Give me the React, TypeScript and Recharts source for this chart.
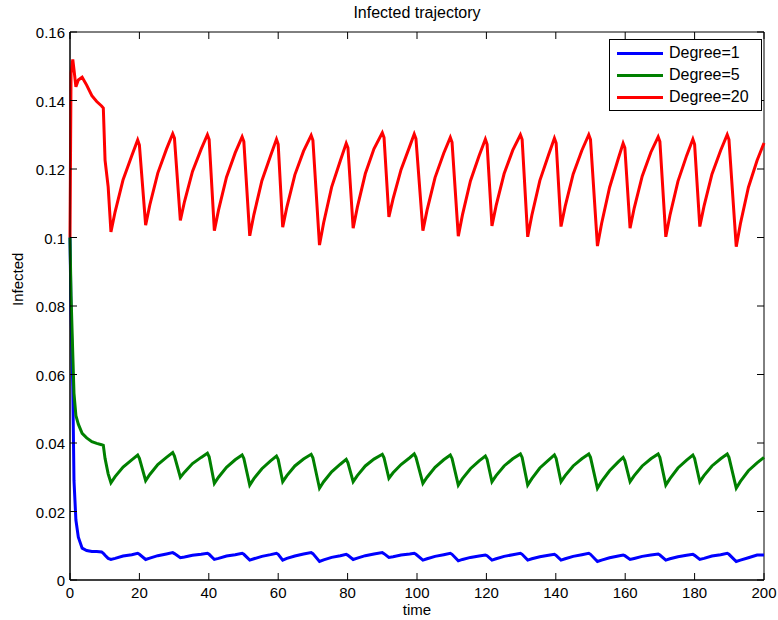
import React from 'react';
import { LineChart, Line, XAxis, YAxis, ReferenceArea } from 'recharts';

// sample times shared by all three runs
const time = [
  0, 0.3, 0.8, 1.15, 1.7, 2.4, 3.5, 4.8, 6.3, 7.7, 9.1, 9.6, 10.1, 11,
  11.8, 13, 15.3, 17.8, 19.5, 20,
  21.8, 23, 25.3, 27.8, 29.6, 30.1,
  31.8, 33, 35.3, 37.8, 39.6, 40.1,
  41.6, 42.8, 45.1, 47.6, 49.6, 50.1,
  51.8, 53, 55.3, 57.8, 59.5, 60,
  61.3, 62.5, 64.8, 67.3, 69.5, 70,
  71.9, 73.1, 75.4, 77.9, 79.6, 80.1,
  81.6, 82.8, 85.1, 87.6, 90, 90.5,
  91.9, 93.1, 95.4, 97.9, 99.2, 99.7,
  101.7, 102.9, 105.2, 107.7, 109.6, 110.1,
  111.9, 113.1, 115.4, 117.9, 119.7, 120.2,
  121.6, 122.8, 125.1, 127.6, 129.8, 130.3,
  131.9, 133.1, 135.4, 137.9, 139.6, 140.1,
  141.5, 142.7, 145, 147.5, 149.5, 150,
  152, 153.2, 155.5, 158, 159.4, 159.9,
  161.4, 162.6, 164.9, 167.4, 169.5, 170,
  171.7, 172.9, 175.2, 177.7, 179.5, 180,
  181.5, 182.7, 185, 187.5, 189.4, 189.9,
  192, 193.2, 195.5, 198, 200,
];

const degree1 = [
  0.1, 0.078, 0.0565, 0.029, 0.0175, 0.0125, 0.0093, 0.0086, 0.0083, 0.0083, 0.0082, 0.0078, 0.0072, 0.0063,
  0.006, 0.0063, 0.007, 0.0074, 0.0078, 0.0075,
  0.006, 0.0064, 0.0071, 0.0076, 0.008, 0.0077,
  0.0065, 0.0067, 0.0072, 0.0075, 0.0078, 0.0075,
  0.006, 0.0063, 0.007, 0.0074, 0.0078, 0.0075,
  0.0058, 0.0062, 0.0069, 0.0074, 0.0078, 0.0075,
  0.0058, 0.0063, 0.007, 0.0076, 0.008, 0.0077,
  0.0054, 0.0059, 0.0066, 0.0071, 0.0075, 0.0072,
  0.006, 0.0064, 0.0071, 0.0076, 0.008, 0.0077,
  0.0066, 0.0068, 0.0073, 0.0076, 0.0078, 0.0075,
  0.0058, 0.0062, 0.0069, 0.0074, 0.0078, 0.0075,
  0.0056, 0.006, 0.0066, 0.007, 0.0073, 0.0071,
  0.0058, 0.0062, 0.0069, 0.0074, 0.0078, 0.0075,
  0.0058, 0.0062, 0.0068, 0.0072, 0.0075, 0.0072,
  0.0058, 0.0062, 0.0069, 0.0074, 0.0078, 0.0075,
  0.0054, 0.0058, 0.0065, 0.007, 0.0073, 0.0071,
  0.006, 0.0063, 0.0069, 0.0073, 0.0076, 0.0073,
  0.0058, 0.0062, 0.0068, 0.0072, 0.0075, 0.0072,
  0.006, 0.0063, 0.007, 0.0074, 0.0078, 0.0075,
  0.0054, 0.0058, 0.0065, 0.0073, 0.0073,
];

const degree5 = [
  0.1, 0.083, 0.066, 0.0545, 0.048, 0.0455, 0.0428, 0.0415, 0.0404, 0.0399, 0.0395, 0.0393, 0.0355, 0.031,
  0.0284, 0.0302, 0.033, 0.0351, 0.0365, 0.0355,
  0.029, 0.0308, 0.0337, 0.0358, 0.0372, 0.0362,
  0.03, 0.0315, 0.034, 0.0358, 0.037, 0.036,
  0.0282, 0.03, 0.0329, 0.0351, 0.0365, 0.0355,
  0.0277, 0.0296, 0.0325, 0.0348, 0.0362, 0.0352,
  0.0287, 0.0305, 0.0333, 0.0353, 0.0367, 0.0357,
  0.0268, 0.0287, 0.0316, 0.0338, 0.0352, 0.0342,
  0.0287, 0.0305, 0.0333, 0.0353, 0.0367, 0.0357,
  0.0297, 0.0313, 0.0337, 0.0357, 0.0368, 0.0358,
  0.0282, 0.03, 0.0329, 0.0351, 0.0365, 0.0355,
  0.0277, 0.0296, 0.0325, 0.0348, 0.0362, 0.0352,
  0.0287, 0.0305, 0.0333, 0.0354, 0.0368, 0.0358,
  0.0277, 0.0296, 0.0327, 0.035, 0.0365, 0.0355,
  0.0287, 0.0305, 0.0333, 0.0354, 0.0368, 0.0358,
  0.0268, 0.0288, 0.0319, 0.0345, 0.0358, 0.0348,
  0.0287, 0.0305, 0.0333, 0.0354, 0.0368, 0.0358,
  0.0277, 0.0296, 0.0327, 0.035, 0.0365, 0.0355,
  0.0287, 0.0305, 0.0333, 0.0354, 0.0368, 0.0358,
  0.0268, 0.0288, 0.0319, 0.0342, 0.0358,
];

const degree20 = [
  0.1, 0.148, 0.152, 0.149, 0.144, 0.146, 0.1468, 0.1445, 0.1414, 0.1397, 0.1384, 0.1378, 0.1226, 0.1148,
  0.1016, 0.1075, 0.1169, 0.1239, 0.1285, 0.127,
  0.1036, 0.1095, 0.1188, 0.1258, 0.1303, 0.129,
  0.105, 0.1105, 0.1193, 0.1258, 0.13, 0.1286,
  0.102, 0.108, 0.1176, 0.1247, 0.1294, 0.128,
  0.1005, 0.1067, 0.1166, 0.1239, 0.1287, 0.1272,
  0.103, 0.1089, 0.1183, 0.1252, 0.1298, 0.1284,
  0.0978, 0.1043, 0.1147, 0.1224, 0.1275, 0.1262,
  0.1027, 0.1088, 0.1186, 0.1259, 0.1306, 0.1292,
  0.106, 0.1113, 0.1198, 0.1266, 0.1302, 0.1288,
  0.102, 0.108, 0.1175, 0.1246, 0.1292, 0.1278,
  0.1004, 0.1066, 0.1165, 0.1239, 0.1287, 0.1272,
  0.1034, 0.1093, 0.1186, 0.1255, 0.13, 0.1286,
  0.1002, 0.1065, 0.1166, 0.1241, 0.129, 0.1276,
  0.1032, 0.1091, 0.1185, 0.1254, 0.13, 0.1286,
  0.0975, 0.1041, 0.1146, 0.123, 0.1275, 0.1262,
  0.1027, 0.1086, 0.1179, 0.1249, 0.1294, 0.128,
  0.1002, 0.1065, 0.1164, 0.1239, 0.1287, 0.1272,
  0.1032, 0.1091, 0.1185, 0.1254, 0.13, 0.1286,
  0.0973, 0.104, 0.1146, 0.1225, 0.1276,
];

const xTicks = [0, 20, 40, 60, 80, 100, 120, 140, 160, 180, 200];
const yTicks = [0, 0.02, 0.04, 0.06, 0.08, 0.1, 0.12, 0.14, 0.16];

const series = [
  { key: 'd1', name: 'Degree=1', color: '#0000ff' },
  { key: 'd5', name: 'Degree=5', color: '#008000' },
  { key: 'd20', name: 'Degree=20', color: '#ff0000' },
];

const data = time.map((t, i) => ({
  t,
  d1: degree1[i],
  d5: degree5[i],
  d20: degree20[i],
}));

const FONT = '"Liberation Sans", Arial, Helvetica, sans-serif';
const W = 778;
const H = 620;
const PLOT_LEFT = 70;
const PLOT_RIGHT = 764;
const PLOT_TOP = 32;
const PLOT_BOTTOM = 580;
const TICK_LEN = 7;

// ticks point inward, mirrored on the opposite side of the box
function XTick({ x, payload }: any) {
  return (
    <g>
      <line x1={x} y1={PLOT_BOTTOM} x2={x} y2={PLOT_BOTTOM - TICK_LEN} stroke="#000" />
      <line x1={x} y1={PLOT_TOP} x2={x} y2={PLOT_TOP + TICK_LEN} stroke="#000" />
      <text x={x} y={PLOT_BOTTOM + 18} textAnchor="middle" fontSize={15} fontFamily={FONT} fill="#000">
        {payload.value}
      </text>
    </g>
  );
}

function YTick({ y, payload }: any) {
  return (
    <g>
      <line x1={PLOT_LEFT} y1={y} x2={PLOT_LEFT + TICK_LEN} y2={y} stroke="#000" />
      <line x1={PLOT_RIGHT} y1={y} x2={PLOT_RIGHT - TICK_LEN} y2={y} stroke="#000" />
      <text x={PLOT_LEFT - 5} y={y + 6} textAnchor="end" fontSize={15} fontFamily={FONT} fill="#000">
        {payload.value}
      </text>
    </g>
  );
}

function LegendBox() {
  return (
    <div
      style={{
        position: 'absolute',
        left: 609,
        top: 39,
        width: 153,
        boxSizing: 'border-box',
        border: '1px solid #000',
        background: '#fff',
        padding: '2px 0 2px 7px',
        fontFamily: FONT,
        fontSize: 16,
        color: '#000',
      }}
    >
      {series.map((s) => (
        <div key={s.key} style={{ display: 'flex', alignItems: 'center', height: 22 }}>
          <span style={{ display: 'inline-block', width: 46, height: 3, background: s.color, marginRight: 6 }} />
          <span>{s.name}</span>
        </div>
      ))}
    </div>
  );
}

export default function App() {
  return (
    <div style={{ position: 'absolute', left: 0, top: 0, width: W, height: H, background: '#fff' }}>
      <div
        style={{
          position: 'absolute',
          left: PLOT_LEFT,
          width: PLOT_RIGHT - PLOT_LEFT,
          top: 4,
          textAlign: 'center',
          fontFamily: FONT,
          fontSize: 16,
          color: '#000',
        }}
      >
        Infected trajectory
      </div>
      <LineChart
        width={W}
        height={H}
        data={data}
        margin={{ top: PLOT_TOP, right: W - PLOT_RIGHT, bottom: 0, left: 0 }}
      >
        <XAxis
          dataKey="t"
          type="number"
          domain={[0, 200]}
          ticks={xTicks}
          height={H - PLOT_BOTTOM}
          tickLine={false}
          tick={<XTick />}
          axisLine={{ stroke: '#000' }}
          label={{ value: 'time', position: 'insideBottom', offset: 5, fill: '#000', fontSize: 15, fontFamily: FONT }}
        />
        <YAxis
          type="number"
          domain={[0, 0.16]}
          ticks={yTicks}
          width={PLOT_LEFT}
          tickLine={false}
          tick={<YTick />}
          axisLine={{ stroke: '#000' }}
          label={{ value: 'Infected', angle: -90, position: 'insideLeft', offset: 18, fill: '#000', fontSize: 15, fontFamily: FONT }}
        />
        <ReferenceArea
          x1={0}
          x2={200}
          y1={0}
          y2={0.16}
          fill="none"
          stroke="#000"
          strokeOpacity={1}
          ifOverflow="visible"
        />
        {series.map((s) => (
          <Line
            key={s.key}
            name={s.name}
            dataKey={s.key}
            stroke={s.color}
            strokeWidth={3}
            dot={false}
            isAnimationActive={false}
          />
        ))}
      </LineChart>
      <LegendBox />
    </div>
  );
}
